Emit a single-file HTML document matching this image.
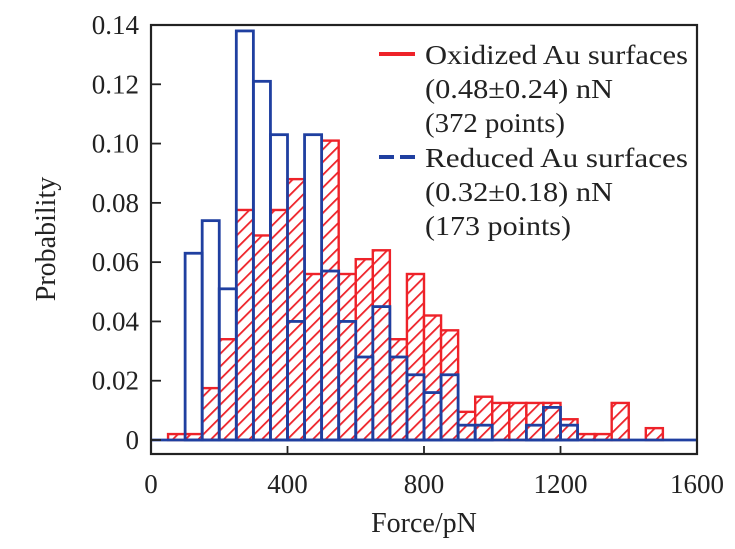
<!DOCTYPE html>
<html><head><meta charset="utf-8"><style>
body{margin:0;background:#fff}
svg{display:block;font-family:"Liberation Serif",serif}
</style></head><body>
<svg id="chart" width="735" height="549" viewBox="0 0 735 549">
<defs>
<pattern id="hatch" patternUnits="userSpaceOnUse" width="9" height="9" patternTransform="rotate(45)">
<rect width="9" height="9" fill="#fff"/>
<line x1="0" y1="0" x2="0" y2="9" stroke="#ee2229" stroke-width="3.6"/>
</pattern>
</defs>
<g id="bars-red"></g>
<g id="bars-blue"></g>
<g id="axes"></g>
<g>
<line x1="379" y1="54" x2="415" y2="54" stroke="#ee2229" stroke-width="4"/>
<text x="425" y="64" font-size="27" textLength="263" lengthAdjust="spacingAndGlyphs" fill="#222">Oxidized Au surfaces</text>
<text x="425" y="98" font-size="27" textLength="188" lengthAdjust="spacingAndGlyphs" fill="#222">(0.48±0.24) nN</text>
<text x="425" y="132" font-size="27" textLength="140" lengthAdjust="spacingAndGlyphs" fill="#222">(372 points)</text>
<line x1="379" y1="157" x2="415" y2="157" stroke="#1f3fa0" stroke-width="4" stroke-dasharray="15 6"/>
<text x="425" y="167" font-size="27" textLength="263" lengthAdjust="spacingAndGlyphs" fill="#222">Reduced Au surfaces</text>
<text x="425" y="201" font-size="27" textLength="188" lengthAdjust="spacingAndGlyphs" fill="#222">(0.32±0.18) nN</text>
<text x="425" y="235" font-size="27" textLength="146" lengthAdjust="spacingAndGlyphs" fill="#222">(173 points)</text>
</g>
<text x="424" y="532" font-size="28" text-anchor="middle" fill="#222">Force/pN</text>
<text transform="translate(55,239) rotate(-90)" font-size="28" text-anchor="middle" fill="#222">Probability</text>
</svg>
<script>
const binStarts = [50,100,150,200,250,300,350,400,450,500,550,600,650,700,750,800,850,900,950,1000,1050,1100,1150,1200,1250,1300,1350,1400,1450];
const oxidized = [0.002,0.002,0.0175,0.034,0.0776,0.069,0.0776,0.088,0.056,0.101,0.056,0.061,0.064,0.034,0.056,0.042,0.037,0.0095,0.0146,0.0125,0.0125,0.0125,0.0125,0.007,0.002,0.002,0.0125,0,0.004];
const reduced = [0,0.063,0.074,0.051,0.138,0.121,0.103,0.040,0.103,0.057,0.040,0.028,0.045,0.028,0.022,0.016,0.022,0.005,0.005,0,0,0.005,0.011,0.005,0,0,0,0,0];
const binWidth = 50;
const xTicks = [0,400,800,1200,1600];
const yTicks = [0,0.02,0.04,0.06,0.08,0.10,0.12,0.14];
const yTickLabels = ["0","0.02","0.04","0.06","0.08","0.10","0.12","0.14"];

const X0=151, X1=697, Y0=440, Y1=25;
const xs = v => X0 + (v/1600)*(X1-X0);
const ys = v => Y0 - (v/0.14)*(Y0-Y1);
const NS="http://www.w3.org/2000/svg";
function mk(tag, attrs, parent){const e=document.createElementNS(NS,tag);for(const k in attrs)e.setAttribute(k,attrs[k]);parent.appendChild(e);return e;}

const gr=document.getElementById('bars-red');
binStarts.forEach((b,i)=>{
  if(oxidized[i]<=0) return;
  const r=mk('rect',{x:xs(b),y:ys(oxidized[i]),width:xs(b+binWidth)-xs(b),height:Y0-ys(oxidized[i]),fill:'url(#hatch)',stroke:'#ee2229','stroke-width':2.4},gr);
  
  
});
const gb=document.getElementById('bars-blue');
binStarts.forEach((b,i)=>{
  if(reduced[i]<=0) return;
  const r=mk('rect',{x:xs(b),y:ys(reduced[i]),width:xs(b+binWidth)-xs(b),height:Y0-ys(reduced[i]),fill:'none',stroke:'#1f3fa0','stroke-width':2.8},gb);
  
  
});
const base=mk('line',{x1:X0,y1:Y0,x2:X1,y2:Y0,stroke:'#1f3fa0','stroke-width':2.8},gb);



const ga=document.getElementById('axes');
const frame=mk('rect',{x:X0,y:Y1,width:X1-X0,height:454-Y1,fill:'none',stroke:'#222','stroke-width':2.2},ga);


xTicks.forEach(t=>{
  const l=mk('line',{x1:xs(t),y1:454,x2:xs(t),y2:446,stroke:'#222','stroke-width':1.8},ga);
  
  
  const tx=mk('text',{x:xs(t),y:493,'font-size':27,'text-anchor':'middle',fill:'#222'},ga);
  tx.textContent=String(t);
  
  
});
yTicks.forEach((t,i)=>{
  const l=mk('line',{x1:X0,y1:ys(t),x2:X0+10,y2:ys(t),stroke:'#222','stroke-width':1.8},ga);
  
  
  const tx=mk('text',{x:139,y:ys(t)+9,'font-size':27,'text-anchor':'end',fill:'#222'},ga);
  tx.textContent=yTickLabels[i];
  
  
});
</script>
</body></html>
